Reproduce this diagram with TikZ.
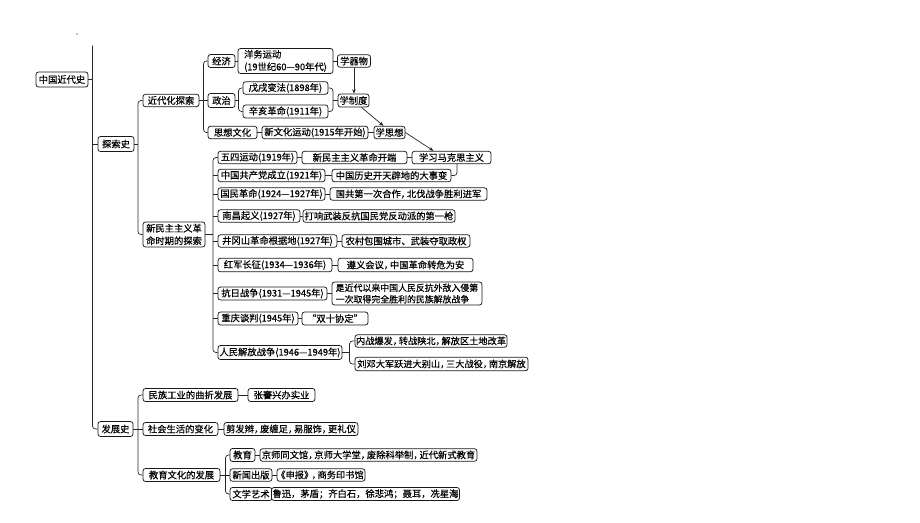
\documentclass[tikz,border=0pt]{standalone}
\usepackage{fontspec}
\setmainfont{Noto Sans CJK SC}[FakeBold=0.4]
\usetikzlibrary{arrows.meta,calc}
\newcommand\hc{，\kern-0.35em}
\begin{document}
\begin{tikzpicture}[x=1pt,y=-1pt,
  bx/.style={draw=black!90, line width=0.75pt, rounded corners=2.5pt, fill=white,
    inner xsep=1pt, inner ysep=0.5pt, minimum height=12.5pt,
    font=\fontsize{9.3pt}{11pt}\selectfont, text=black},
  two/.style={font=\fontsize{9.3pt}{12.5pt}\selectfont},
  ln/.style={draw=black!85, line width=0.7pt},
  rc/.style={ln, rounded corners=3pt},
  ar/.style={ln, -{Stealth[length=4.5pt,width=3.5pt]}}
]
\useasboundingbox[fill=white] (0,0) rectangle (920,522);
\fill[black!50] (77,34) circle (0.8);

% level 0/1
\node[bx, minimum width=52pt, minimum height=15pt] (root) at (62,79.5) {中国近代史};
\node[bx, minimum width=36pt, minimum height=15pt] (tan) at (116,144) {探索史};
\node[bx, minimum width=35pt, minimum height=15pt] (fz) at (115.5,429) {发展史};

% 探索史 children
\node[bx, minimum width=56pt] (jdh) at (171,100.5) {近代化探索};
\node[bx, two, align=center, minimum width=62pt, minimum height=25pt] (xmz) at (174,234.5) {新民主主义革\\命时期的探索};

% 近代化探索
\node[bx, minimum width=27pt, minimum height=13pt] (jj) at (221.5,61) {经济};
\node[bx, two, align=left, minimum width=95pt, minimum height=25pt] (yw) at (285.5,61) {洋务运动\\(19世纪60—90年代)};
\node[bx, minimum width=33pt] (xqw) at (354,61) {学器物};
\node[bx, minimum width=27pt, minimum height=14pt] (zz) at (221.5,100.5) {政治};
\node[bx, minimum width=85pt] (wx) at (285.5,88) {戊戌变法(1898年)};
\node[bx, minimum width=85pt, minimum height=13pt] (xh) at (285.5,111.5) {辛亥革命(1911年)};
\node[bx, minimum width=31pt, minimum height=13pt] (xzd) at (353.5,100.5) {学制度};
\node[bx, minimum width=49pt] (sxwh) at (232.5,132.5) {思想文化};
\node[bx, minimum width=106pt] (xwh) at (315,132.5) {新文化运动(1915年开始)};
\node[bx, minimum width=31pt] (xsx) at (389.5,132.5) {学思想};

% 新民主主义革命时期的探索
\node[bx, minimum width=79pt] (ws) at (257.5,157.5) {五四运动(1919年)};
\node[bx, minimum width=105pt] (xmzkd) at (354.5,157.5) {新民主主义革命开端};
\node[bx, minimum width=79pt] (xxm) at (451.5,157.5) {学习马克思主义};
\node[bx, minimum width=107pt] (gcd) at (271.5,175.5) {中国共产党成立(1921年)};
\node[bx, minimum width=119pt] (dsb) at (391.5,175.5) {中国历史开天辟地的大事变};
\node[bx, minimum width=107pt] (gm) at (271.5,194) {国民革命(1924—1927年)};
\node[bx, minimum width=157pt] (gg) at (408.5,194) {国共第一次合作\hc 北伐战争胜利进军};
\node[bx, minimum width=82pt] (nc) at (259,216) {南昌起义(1927年)};
\node[bx, minimum width=152pt] (dx) at (379,216) {打响武装反抗国民党反动派的第一枪};
\node[bx, minimum width=119pt] (jgs) at (277.5,241) {井冈山革命根据地(1927年)};
\node[bx, minimum width=128pt] (nc2) at (406,241) {农村包围城市、武装夺取政权};
\node[bx, minimum width=114pt, minimum height=13.5pt] (hj) at (275,265) {红军长征(1934—1936年)};
\node[bx, minimum width=135pt, minimum height=13.5pt] (zy) at (405.5,265) {遵义会议\hc 中国革命转危为安};
\node[bx, minimum width=109pt, minimum height=13pt] (kr) at (272.5,293.5) {抗日战争(1931—1945年)};
\node[bx, align=left, font=\fontsize{8.9pt}{11.5pt}\selectfont, minimum width=150pt, minimum height=23pt] (sjd) at (407,293.5) {是近代以来中国人民反抗外敌入侵第\\一次取得完全胜利的民族解放战争};
\node[bx, minimum width=80pt, minimum height=13pt] (cq) at (258,318.5) {重庆谈判(1945年)};
\node[bx, minimum width=66pt, minimum height=13pt] (sx) at (335,318.5) {“双十协定”};
\node[bx, minimum width=124pt, minimum height=14pt] (rm) at (280,352.5) {人民解放战争(1946—1949年)};
\node[bx, font=\fontsize{9.2pt}{11pt}\selectfont, minimum width=152pt] (nz) at (431,341) {内战爆发\hc 转战陕北\hc 解放区土地改革};
\node[bx, font=\fontsize{9.2pt}{11pt}\selectfont, minimum width=173pt, minimum height=13.5pt] (ld) at (441.5,364) {刘邓大军跃进大别山\hc 三大战役\hc 南京解放};

% 发展史
\node[bx, minimum width=95pt, minimum height=13pt] (mz) at (190.5,395) {民族工业的曲折发展};
\node[bx, minimum width=67pt, minimum height=13pt] (zj) at (281.5,395) {张謇兴办实业};
\node[bx, minimum width=75pt, minimum height=13pt] (sh) at (180.5,429) {社会生活的变化};
\node[bx, minimum width=134pt, minimum height=13pt] (jf) at (291,429) {剪发辫\hc 废缠足\hc 易服饰\hc 更礼仪};
\node[bx, minimum width=77pt, minimum height=13pt] (jy) at (181.5,475) {教育文化的发展};
\node[bx, minimum width=25pt, minimum height=13pt] (jyu) at (242.5,455) {教育};
\node[bx, minimum width=217pt] (jsty) at (368.5,455) {京师同文馆\hc 京师大学堂\hc 废除科举制\hc 近代新式教育};
\node[bx, minimum width=42pt] (xw) at (251,475) {新闻出版};
\node[bx, font=\fontsize{9.2pt}{11pt}\selectfont, minimum width=88pt] (sb) at (321,475) {\kern-2pt《申报》\kern-1.5pt\hc 商务印书馆};
\node[bx, minimum width=42pt, minimum height=13pt] (wxy) at (251,494) {文学艺术};
\node[bx, minimum width=175pt, minimum height=13pt] (lx) at (365.5,494) {鲁迅，茅盾；齐白石，徐悲鸿；聂耳，冼星海};

% connector columns
\coordinate (t0) at (92.5,0);
\coordinate (t1) at (138,0);
\coordinate (t2) at (203.5,0);
\coordinate (t3) at (238.5,0);
\coordinate (t4) at (333,0);
\coordinate (t5) at (213,0);
\coordinate (t6) at (349.5,0);
\coordinate (t7) at (138,0);
\coordinate (t8) at (225.5,0);
\coordinate (top) at (92.5,45.5);

% trunk
\draw[rc] (top) |- (fz.west);
\draw[ln] (root.east) -- (root.east -| t0);
\draw[ln] (tan.west -| t0) -- (tan.west);

% 探索史
\draw[ln] (tan.east) -- (tan.east -| t1);
\draw[rc] (jdh.west) -| (t1 |- xmz.west) -- (xmz.west);

% 近代化探索
\draw[ln] (jdh.east) -- (jdh.east -| t2);
\draw[rc] (jj.west) -| (t2 |- sxwh.west) -- (sxwh.west);
\draw[ln] (zz.west -| t2) -- (zz.west);
\draw[ln] (jj.east) -- (yw.west |- jj.east);
\draw[ln] (yw.east |- xqw.west) -- (xqw.west);
\draw[ln] (zz.east) -- (zz.east -| t3);
\draw[rc] (wx.west) -| (t3 |- xh.west) -- (xh.west);
\draw[rc] (wx.east) -| (t4 |- xh.east) -- (xh.east);
\draw[ln] (t4 |- xzd.west) -- (xzd.west);
\draw[ln] (sxwh.east) -- (xwh.west);
\draw[ln] (xwh.east) -- (xsx.west);
\draw[ar] (xqw.south) -- (xqw.south |- xzd.north);
\draw[ar] ($(xzd.south)+(8,0)$) -- ($(xsx.north)+(-6,0)$);
\draw[ar] (xsx.east) -- ($(xxm.north)+(-18,0)$);

% 新民主主义革命时期的探索
\draw[ln] (xmz.east) -- (xmz.east -| t5);
\draw[rc] (ws.west) -| (t5 |- rm.west) -- (rm.west);
\foreach \n in {gcd,gm,nc,jgs,hj,kr,cq} {\draw[ln] (\n.west -| t5) -- (\n.west);}
\draw[ln] (ws.east) -- (xmzkd.west);
\draw[ln] (xmzkd.east) -- (xxm.west);
\draw[ln] (gcd.east) -- (dsb.west);
\draw[rc] (dsb.east) -| ($(xxm.south)+(5.5,0)$);
\draw[ln] (gm.east) -- (gg.west);
\draw[ln] (nc.east) -- (dx.west);
\draw[ln] (jgs.east) -- (nc2.west);
\draw[ln] (hj.east) -- (zy.west);
\draw[ln] (kr.east) -- (sjd.west);
\draw[ln] (cq.east) -- (sx.west);
\draw[ln] (rm.east) -- (rm.east -| t6);
\draw[rc] (nz.west) -| (t6 |- ld.west) -- (ld.west);

% 发展史
\draw[ln] (fz.east) -- (fz.east -| t7);
\draw[rc] (mz.west) -| (t7 |- jy.west) -- (jy.west);
\draw[ln] (sh.west -| t7) -- (sh.west);
\draw[ln] (mz.east) -- (zj.west);
\draw[ln] (sh.east) -- (jf.west);
\draw[ln] (jy.east) -- (jy.east -| t8);
\draw[rc] (jyu.west) -| (t8 |- wxy.west) -- (wxy.west);
\draw[ln] (xw.west -| t8) -- (xw.west);
\draw[ln] (jyu.east) -- (jsty.west);
\draw[ln] (xw.east) -- (sb.west);
\draw[ln] (wxy.east) -- (lx.west);
\end{tikzpicture}
\end{document}
